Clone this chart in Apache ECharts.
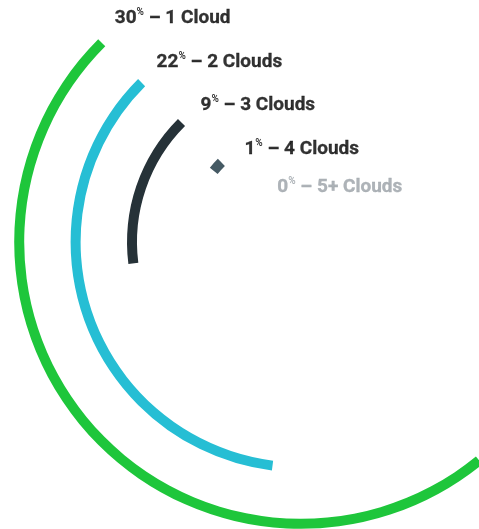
<!DOCTYPE html>
<html>
<head>
<meta charset="utf-8">
<script src="https://cdn.jsdelivr.net/npm/echarts@6/dist/echarts.min.js"></script>
<style>
html,body{margin:0;padding:0;background:#fff;}
#chart{width:479px;height:529px;}
</style>
</head>
<body>
<div id="chart"></div>
<script>
// Data (inner ring to outer ring)
var categories = ['5+ Clouds', '4 Clouds', '3 Clouds', '2 Clouds', '1 Cloud'];
var percentValues = [0, 1, 9, 22, 30];
var labelTexts = ['5+ Clouds', '4 Clouds', '3 Clouds', '2 Clouds', '1 Cloud'];

// Styles
var barColors = ['#9aa0a6', '#455a64', '#263238', '#26bed4', '#1ec63b'];
var labelColors = ['#9aa0a6', '#000000', '#000000', '#000000', '#000000'];
var labelOffsets = [[16, -17], [23, -15], [19, -19], [15, -22], [13, -26]];

var chart = echarts.init(document.getElementById('chart'), null, {renderer: 'canvas'});

var barData = percentValues.map(function (v, i) {
  return {value: v, itemStyle: {color: barColors[i]}};
});

function richFor(i) {
  var c = labelColors[i];
  return {
    v: {fontSize: 19, fontWeight: 'bold', color: c, fontFamily: 'Roboto', lineHeight: 22, verticalAlign: 'bottom', textBorderColor: c, textBorderWidth: 0.3},
    p: {fontSize: 10, fontWeight: 'bold', color: c, fontFamily: 'Roboto', lineHeight: 22, verticalAlign: 'top', padding: [2, 0, 0, 0]},
    t: {fontSize: 19, fontWeight: 'bold', color: c, fontFamily: 'Roboto', lineHeight: 22, verticalAlign: 'bottom', textBorderColor: c, textBorderWidth: 0.3}
  };
}

chart.setOption({
  animation: false,
  backgroundColor: '#ffffff',
  polar: {center: [301, 242], radius: [28, 310]},
  angleAxis: {
    type: 'value', min: 0, max: 62, startAngle: 135, clockwise: false,
    show: false
  },
  radiusAxis: {
    type: 'category', data: categories, show: false
  },
  series: [
    {
      type: 'bar',
      coordinateSystem: 'polar',
      data: barData,
      barWidth: 10,
      silent: true
    },
    {
      type: 'scatter',
      coordinateSystem: 'polar',
      symbolSize: 0,
      silent: true,
      data: categories.map(function (c, i) {
        return {value: [i, 0], name: c, label: {offset: labelOffsets[i], rich: richFor(i)}};
      }),
      label: {
        show: true,
        position: 'right',
        distance: 0,
        align: 'left',
        verticalAlign: 'middle',
        formatter: function (p) {
          var i = p.dataIndex;
          return '{v|' + percentValues[i] + '}{p|%}{t| – ' + labelTexts[i] + '}';
        }
      }
    }
  ]
});
</script>
</body>
</html>
